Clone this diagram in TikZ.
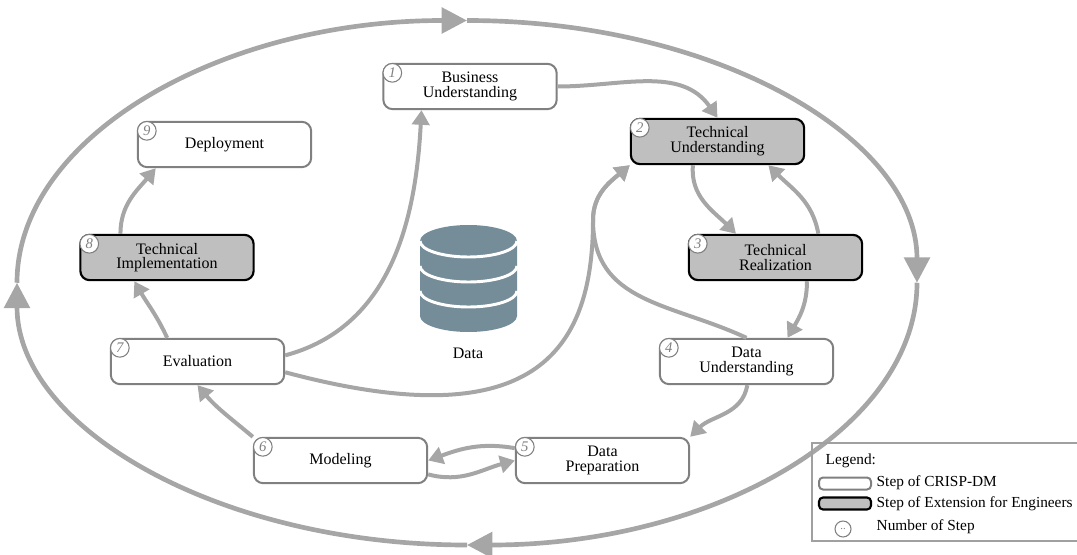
\documentclass[tikz,border=0pt]{standalone}
\usepackage{fontspec}
\setmainfont{Liberation Serif}
\usepackage{tikz}
\usetikzlibrary{arrows.meta}
\definecolor{arrowgrey}{RGB}{166,166,166}
\definecolor{stepgrey}{RGB}{191,191,191}
\definecolor{bordergrey}{RGB}{128,128,128}
\definecolor{framegrey}{RGB}{160,160,160}
\definecolor{dbblue}{RGB}{117,141,153}
\tikzstyle{grey state}=[
    draw = black,
    line width = 1.6pt,
    fill = stepgrey,
    rounded corners = 7pt,
    minimum width = 130pt,
    minimum height = 34pt,
    align = center,
    font = \fontsize{12}{11}\selectfont
]

\begin{document}
\begin{tikzpicture}[x=0.75pt, y=0.75pt,
    main/.style = {draw=bordergrey, line width=1.5pt, fill=white, rounded corners=7pt, minimum width=130pt, minimum height=34pt, align=center, font=\fontsize{12}{11}\selectfont},
    num/.style = {draw=bordergrey, line width=0.8pt, fill=white, circle, inner sep=0pt, minimum size=14pt, text=bordergrey, font=\fontsize{11}{11}\selectfont\itshape},
    flow/.style = {draw=arrowgrey, line width=3pt, -{Triangle[length=11pt,width=13pt]}},
    ring/.style = {draw=arrowgrey, line width=3.5pt, -{Triangle[length=19pt,width=19pt]}}]
        \useasboundingbox (0,0) rectangle (1077,554);

        % outer cycle
        \coordinate (ringW) at (17,271.25);
        \coordinate (ringN) at (467,533.5);
        \coordinate (ringE) at (917,271.25);
        \coordinate (ringS) at (467,9);
        \draw[ring] (ringW) arc[start angle=180, end angle=90, x radius=450, y radius=262.25];
        \draw[ring] (ringN) arc[start angle=90, end angle=0, x radius=450, y radius=262.25];
        \draw[ring] (ringE) arc[start angle=0, end angle=-90, x radius=450, y radius=262.25];
        \draw[ring] (ringS) arc[start angle=-90, end angle=-180, x radius=450, y radius=262.25];

        \node[main] (1) at (470,467.5) {Business\\Understanding};
        \node[grey state] (2) at (717.5,412.5) {Technical\\Understanding};
        \node[grey state] (3) at (775.5,296.5) {Technical\\Realization};
        \node[main] (4) at (746.5,192.5) {Data\\Understanding};
        \node[main] (5) at (602.5,93.5) {Data\\Preparation};
        \node[main] (6) at (340.5,93.5) {Modeling};
        \node[main] (7) at (197.5,192.5) {Evaluation};
        \node[grey state] (8) at (167,296.5) {Technical\\Implementation};
        \node[main] (9) at (224.5,409.5) {Deployment};

        \node[num] (n1) at ([shift={(7.5pt,-7.5pt)}]1.north west) {1};
        \node[num] (n2) at ([shift={(7.5pt,-7.5pt)}]2.north west) {2};
        \node[num] (n3) at ([shift={(7.5pt,-7.5pt)}]3.north west) {3};
        \node[num] (n4) at ([shift={(7.5pt,-7.5pt)}]4.north west) {4};
        \node[num] (n5) at ([shift={(7.5pt,-7.5pt)}]5.north west) {5};
        \node[num] (n6) at ([shift={(7.5pt,-7.5pt)}]6.north west) {6};
        \node[num] (n7) at ([shift={(7.5pt,-7.5pt)}]7.north west) {7};
        \node[num] (n8) at ([shift={(7.5pt,-7.5pt)}]8.north west) {8};
        \node[num] (n9) at ([shift={(7.5pt,-7.5pt)}]9.north west) {9};

        % data store
        \fill[dbblue] (420,313) arc[start angle=180, end angle=0, x radius=48.5, y radius=16] -- (517,238) arc[start angle=0, end angle=-180, x radius=48.5, y radius=16] -- cycle;
        \draw[white, line width=2.2pt] (420,313) arc[start angle=180, end angle=360, x radius=48.5, y radius=16];
        \draw[white, line width=2.2pt] (420,288) arc[start angle=180, end angle=360, x radius=48.5, y radius=16];
        \draw[white, line width=2.2pt] (420,263) arc[start angle=180, end angle=360, x radius=48.5, y radius=16];
        \node[font=\fontsize{12}{12}\selectfont] (data) at (468,201) {Data};

        % where the two returns to step 2 meet
        \coordinate (merge) at (593,334);

        \draw[flow] (1.east) to[out=0, in=125] (2.north);
        \draw[flow] (2.-136) to[out=-95, in=135] (3.149);
        \draw[flow] (3.29) to[out=100, in=-45] (2.-25);
        \draw[flow] (3.-37) to[out=-90, in=60] (4.30);
        \draw[flow] (4.north) to[out=155, in=-90, looseness=1.1] (merge) to[out=90, in=-140] (2.south west);
        \draw[flow] (4.-88) to[out=-100, in=45] (5.north east);
        \draw[flow] (5.172) to[out=170, in=20] (6.east);
        \draw[flow] (6.-9) to[out=-15, in=195] (5.west);
        \draw[flow] (6.north west) to[out=140, in=-50] (7.south);
        \draw[flow] (7.142) to[out=115, in=-60] (8.-144);
        \draw[flow] (8.153) to[out=90, in=-130] (9.-161);
        \draw[flow] (7.4) to[out=15, in=-93] (1.-154);
        \draw[flow] (7.-7) to[out=-15, in=-90, out looseness=1.9, in looseness=1] (merge) to[out=90, in=-140] (2.south west);

        % legend
        \draw[framegrey, line width=0.8pt] (812,13) rectangle (1082,111);
        \node[anchor=west, font=\fontsize{11.5}{12}\selectfont] (leg) at (821,93) {Legend:};
        \node[main, minimum width=39pt, minimum height=9pt, rounded corners=3pt] (l1) at (845,70.5) {};
        \node[grey state, minimum width=39pt, minimum height=9pt, rounded corners=3pt] (l2) at (845,50.5) {};
        \node[num, minimum size=12pt, font=\fontsize{8}{8}\selectfont] (l3) at (843,25) {..};
        \node[anchor=west, font=\fontsize{11.5}{12}\selectfont] (t1) at (872,71) {Step of CRISP-DM};
        \node[anchor=west, font=\fontsize{11.5}{12}\selectfont] (t2) at (872,50) {Step of Extension for Engineers};
        \node[anchor=west, font=\fontsize{11.5}{12}\selectfont] (t3) at (872,27) {Number of Step};

    \end{tikzpicture}
\end{document}
